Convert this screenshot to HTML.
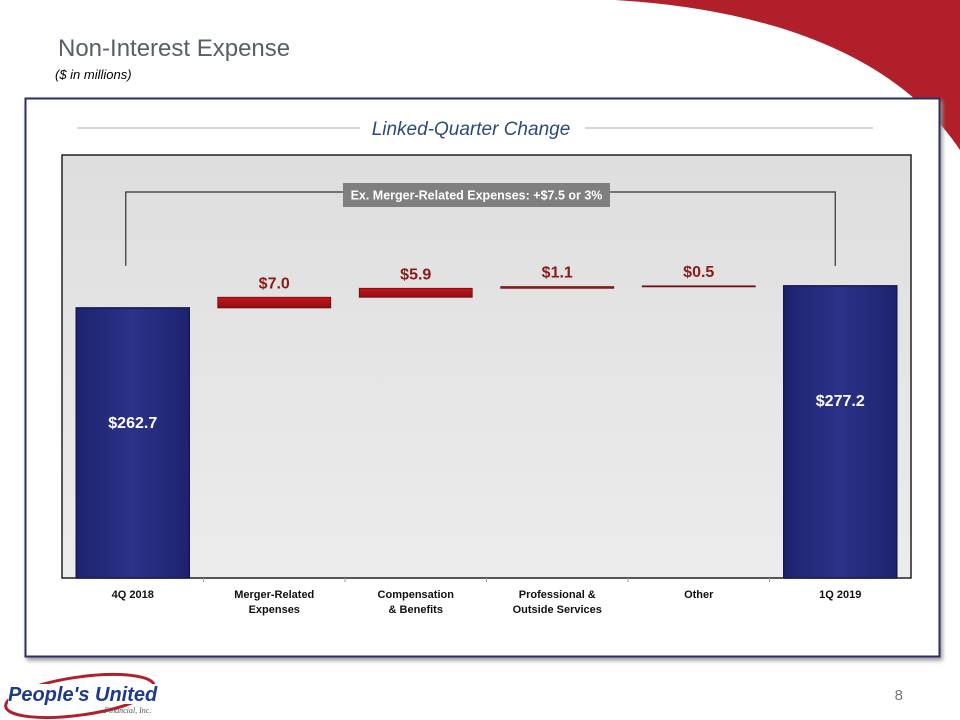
<!DOCTYPE html>
<html><head><meta charset="utf-8"><style>
body{margin:0;width:960px;height:720px;background:#fff;position:relative;overflow:hidden;font-family:"Liberation Sans",sans-serif}
.abs{position:absolute}
</style></head><body>
<svg class="abs" style="left:0;top:0" width="960" height="720">
  <defs>
    <linearGradient id="bg" x1="0" y1="0" x2="0" y2="1"><stop offset="0" stop-color="#dedede"/><stop offset="1" stop-color="#ececec"/></linearGradient>
    <linearGradient id="blue" x1="0" y1="0" x2="1" y2="0"><stop offset="0" stop-color="#1e2370"/><stop offset="0.5" stop-color="#2b3288"/><stop offset="1" stop-color="#1e2370"/></linearGradient>
    <linearGradient id="red" x1="0" y1="0" x2="0" y2="1"><stop offset="0" stop-color="#c4161c"/><stop offset="1" stop-color="#8f0d12"/></linearGradient>
  </defs>
  <path d="M615,0 L960,0 L960,150 C900,60 780,10 615,0 Z" fill="#b01f2a"/>
  <text x="58" y="56" font-size="24" fill="#57606a" font-family="Liberation Sans">Non-Interest Expense</text>
  <text x="55" y="79" font-size="13" font-style="italic" fill="#000">($ in millions)</text>
  <rect x="25.5" y="98.5" width="914" height="558" fill="#fff" stroke="#2b2f63" stroke-width="2" style="filter:drop-shadow(2px 3px 2px #999)"/>
  <line x1="77" y1="128" x2="360" y2="128" stroke="#c8c8c8" stroke-width="1.5"/>
  <line x1="585" y1="128" x2="873" y2="128" stroke="#c8c8c8" stroke-width="1.5"/>
  <text x="471" y="135" font-size="19" font-style="italic" fill="#2c4a78" text-anchor="middle">Linked-Quarter Change</text>
  <rect x="62" y="155" width="849" height="423" fill="url(#bg)" stroke="#222" stroke-width="1.5"/>
  <g id="chart"></g>
  <text x="903" y="700" font-size="15" fill="#777" text-anchor="end">8</text>
  <g>
    <ellipse cx="80" cy="696" rx="75" ry="19" fill="none" stroke="#b01f2a" stroke-width="3" transform="rotate(-8 80 696)"/>
    <rect x="8" y="684" width="148" height="20" fill="#fff"/>
    <text x="8" y="701" font-size="20" font-weight="bold" font-style="italic" fill="#1e3a8a">People's United</text>
    <text x="104" y="713" font-size="8" font-style="italic" fill="#555" font-family="Liberation Serif">Financial, Inc.</text>
  </g>
</svg>
<script>
const categories=["4Q 2018","Merger-Related|Expenses","Compensation|& Benefits","Professional &|Outside Services","Other","1Q 2019"];
const values=[262.7,7.0,5.9,1.1,0.5,277.2];
const labels=["$262.7","$7.0","$5.9","$1.1","$0.5","$277.2"];
const bracketText="Ex. Merger-Related Expenses:  +$7.5 or 3%";
const NS="http://www.w3.org/2000/svg";
const g=document.getElementById('chart');
const X0=62,W=849,Y0=578,VMIN=85,K=1.52;
const bw=W/categories.length;
const y=v=>Y0-(v-VMIN)*K;
const xc=i=>X0+bw*(i+0.5);
function mk(t,a){const e=document.createElementNS(NS,t);for(const k in a)e.setAttribute(k,a[k]);g.appendChild(e);return e;}
let run=0;
const barW=113;
values.forEach((v,i)=>{
  const total=(i===0||i===values.length-1);
  let top,bot;
  if(total){top=y(v);bot=Y0;run=v;}else{bot=y(run);run+=v;top=y(run);}
  const h=Math.max(bot-top,1);
  const r=mk('rect',{x:xc(i)-barW/2,y:top,width:barW,height:h,fill:total?'url(#blue)':'url(#red)',stroke:total?'#141850':'#6b0a0e','stroke-width':total?1.5:0.8});
  
  
  const t=mk('text',{x:xc(i),y:total?top+120:top-9,'font-size':16,'font-weight':'bold',fill:total?'#fff':'#8b1a1a','text-anchor':'middle'});
  t.textContent=labels[i];
  
  
  const lines=categories[i].split('|');
  lines.forEach((ln,j)=>{
    const c=mk('text',{x:xc(i),y:598+j*15,'font-size':11,'font-weight':'bold',fill:'#111','text-anchor':'middle'});
    c.textContent=ln;
    
    
  });
  if(i>0){const tk=mk('line',{x1:X0+bw*i,y1:Y0,x2:X0+bw*i,y2:Y0+4,stroke:'#999'});}
});
const bx1=xc(0)-7,bx2=xc(values.length-1)-5,by=192;
const br=mk('polyline',{points:`${bx1},${y(values[0])-42} ${bx1},${by} ${bx2},${by} ${bx2},${y(values[values.length-1])-20}`,fill:'none',stroke:'#333','stroke-width':1.2});


const bb=mk('rect',{x:343,y:183,width:267,height:24,fill:'#7f7f7f'});


const bt=mk('text',{x:476.5,y:199.5,'font-size':12.5,'font-weight':'bold',fill:'#fff','text-anchor':'middle'});
bt.textContent=bracketText;


</script>
</body></html>
